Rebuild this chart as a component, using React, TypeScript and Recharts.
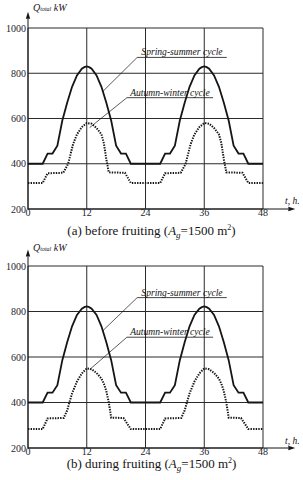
import { CartesianGrid, Line, LineChart, ReferenceLine, XAxis, YAxis } from "recharts";

// time axis (h) and heat load axis (kW)
const hourTicks = [0, 12, 24, 36, 48];
const loadTicks = [200, 400, 600, 800, 1000];

// (a) before fruiting
const springHoursA = [0, 3, 4, 5, 6, 7, 8, 9, 10, 11, 11.5, 12, 12.5, 13, 14, 15, 16, 17, 18, 19, 20, 21, 27, 28, 29, 30, 31, 32, 33, 34, 35, 35.5, 36, 36.5, 37, 38, 39, 40, 41, 42, 43, 44, 45, 48];
const springLoadA = [400, 400, 445, 445, 480, 590, 670, 740, 790, 820, 827, 830, 827, 820, 790, 740, 670, 590, 480, 445, 445, 400, 400, 445, 445, 480, 590, 670, 740, 790, 820, 827, 830, 827, 820, 790, 740, 670, 590, 480, 445, 445, 400, 400];
const autumnHoursA = [0, 3, 4, 7.2, 8.2, 9.2, 10, 11, 12, 13, 14, 15, 15.5, 16, 16.5, 19.8, 21, 27, 28, 31.2, 32.2, 33.2, 34, 35, 36, 37, 38, 39, 39.5, 40, 40.5, 43.8, 45, 48];
const autumnLoadA = [315, 315, 358, 360, 400, 486, 530, 562, 580, 577, 558, 530, 490, 420, 362, 360, 315, 315, 358, 360, 400, 486, 530, 562, 580, 577, 558, 530, 490, 420, 362, 360, 315, 315];

// (b) during fruiting
const springHoursB = springHoursA;
const springLoadB = [400, 400, 443, 443, 476, 585, 665, 735, 785, 812, 819, 822, 819, 812, 785, 735, 665, 585, 476, 443, 443, 400, 400, 443, 443, 476, 585, 665, 735, 785, 812, 819, 822, 819, 812, 785, 735, 665, 585, 476, 443, 443, 400, 400];
const autumnHoursB = [0, 3, 4, 7.3, 8, 8.5, 9, 10, 11, 12, 13, 14, 15, 15.5, 16, 16.5, 17, 19.5, 21, 27, 28, 31.3, 32, 32.5, 33, 34, 35, 36, 37, 38, 39, 39.5, 40, 40.5, 41, 43.5, 45, 48];
const autumnLoadB = [283, 283, 330, 332, 365, 404, 440, 492, 528, 550, 546, 530, 505, 482, 450, 400, 333, 332, 283, 283, 330, 332, 365, 404, 440, 492, 528, 550, 546, 530, 505, 482, 450, 400, 333, 332, 283, 283];

const toPoints = (hours: number[], load: number[]) => hours.map((t, i) => ({ t, q: load[i] }));

const serif = "Liberation Serif, Times New Roman, DejaVu Serif, serif";
const ink = "#151515";
const tickStyle = { fill: "#1c1c2c", fontSize: 10, fontFamily: serif };

function Arrow(props: any) {
  const { x1, y1, x2, y2 } = props;
  const a = Math.atan2(y2 - y1, x2 - x1);
  const len = 7;
  const half = 2.2;
  const bx = x2 - len * Math.cos(a);
  const by = y2 - len * Math.sin(a);
  const px = -Math.sin(a) * half;
  const py = Math.cos(a) * half;
  return (
    <g>
      <line x1={x1} y1={y1} x2={bx} y2={by} stroke={ink} strokeWidth={1} />
      <polygon points={`${x2},${y2} ${bx + px},${by + py} ${bx - px},${by - py}`} fill={ink} />
    </g>
  );
}

type Note = { spring: [number, number, number, number, number]; autumn: [number, number, number, number, number] };

function Panel({
  spring,
  autumn,
  top,
  bottom,
  note,
}: {
  spring: { t: number; q: number }[];
  autumn: { t: number; q: number }[];
  top: number;
  bottom: number;
  note: Note;
}) {
  // note: [underline x1, underline x2, underline y, leader end x, leader end y]
  const [sx1, sx2, sy, sex, sey] = note.spring;
  const [ax1, ax2, ay, aex, aey] = note.autumn;
  const labelStyle = { fill: ink, fontSize: 9.6, fontStyle: "italic", fontFamily: serif };
  return (
    <LineChart width={303} height={240} margin={{ top, right: 40, bottom, left: 0 }}>
      <CartesianGrid stroke="#2a2a2a" strokeWidth={1} />
      <XAxis
        type="number"
        dataKey="t"
        domain={[0, 48]}
        ticks={hourTicks}
        tickSize={0}
        tickMargin={0}
        height={13}
        axisLine={{ stroke: ink }}
        tick={tickStyle}
      />
      <YAxis
        type="number"
        dataKey="q"
        domain={[200, 1000]}
        ticks={loadTicks}
        width={28}
        tickSize={0}
        tickMargin={2}
        axisLine={{ stroke: ink }}
        tick={tickStyle}
      />
      <ReferenceLine segment={[{ x: 0, y: 1000 }, { x: 0, y: 1072 }]} ifOverflow="visible" shape={Arrow} />
      <ReferenceLine segment={[{ x: 48, y: 200 }, { x: 54.6, y: 200 }]} ifOverflow="visible" shape={Arrow} />
      <Line
        data={spring}
        dataKey="q"
        type="linear"
        stroke={ink}
        strokeWidth={1.8}
        dot={false}
        isAnimationActive={false}
      />
      <Line
        data={autumn}
        dataKey="q"
        type="linear"
        stroke={ink}
        strokeWidth={2}
        strokeDasharray="1.4 1.2"
        dot={false}
        isAnimationActive={false}
      />
      <ReferenceLine
        segment={[{ x: sx1, y: sy }, { x: sx2, y: sy }]}
        stroke={ink}
        strokeWidth={0.8}
        label={{ value: "Spring-summer cycle", position: "top", offset: 2, ...labelStyle }}
      />
      <ReferenceLine segment={[{ x: sx1, y: sy }, { x: sex, y: sey }]} stroke={ink} strokeWidth={0.7} />
      <ReferenceLine
        segment={[{ x: ax1, y: ay }, { x: ax2, y: ay }]}
        stroke={ink}
        strokeWidth={0.8}
        label={{ value: "Autumn-winter cycle", position: "top", offset: 2, ...labelStyle }}
      />
      <ReferenceLine segment={[{ x: ax1, y: ay }, { x: aex, y: aey }]} stroke={ink} strokeWidth={0.7} />
    </LineChart>
  );
}

const textBase: React.CSSProperties = { position: "absolute", fontFamily: serif, color: ink, whiteSpace: "nowrap" };

function AxisTitles({ top }: { top: number }) {
  return (
    <>
      <div style={{ ...textBase, left: 33, top: top, fontSize: 10, fontStyle: "italic", lineHeight: "10px" }}>
        Q<span style={{ fontSize: 6 }}>total</span> kW
      </div>
      <div style={{ ...textBase, left: 285, top: top + 193, fontSize: 9.5, fontStyle: "italic", lineHeight: "10px" }}>
        t, h.
      </div>
    </>
  );
}

function Caption({ top, tag, text }: { top: number; tag: string; text: string }) {
  const small: React.CSSProperties = { position: "relative", verticalAlign: "baseline" };
  return (
    <div style={{ ...textBase, left: 0, width: 303, textAlign: "center", top, fontSize: 13, lineHeight: "13px" }}>
      ({tag}) {text} (<i>A</i>
      <span style={{ ...small, top: 3, fontSize: 9, fontStyle: "italic" }}>g</span>=1500 m
      <span style={{ ...small, top: -5, fontSize: 8 }}>2</span>)
    </div>
  );
}

export default function App() {
  return (
    <div style={{ position: "absolute", left: 0, top: 0, width: 303, height: 480, background: "#fff" }}>
      <div style={{ position: "absolute", left: 0, top: 0 }}>
        <Panel
          spring={toPoints(springHoursA, springLoadA)}
          autumn={toPoints(autumnHoursA, autumnLoadA)}
          top={28}
          bottom={18}
          note={{ spring: [22.3, 40.6, 870, 15.3, 720], autumn: [20.2, 37.8, 692, 12.6, 560] }}
        />
      </div>
      <div style={{ position: "absolute", left: 0, top: 240 }}>
        <Panel
          spring={toPoints(springHoursB, springLoadB)}
          autumn={toPoints(autumnHoursB, autumnLoadB)}
          top={26}
          bottom={19}
          note={{ spring: [22.3, 40.6, 861, 15.3, 716], autumn: [20.2, 37.8, 687, 12.6, 545] }}
        />
      </div>
      <AxisTitles top={3} />
      <AxisTitles top={243} />
      <Caption top={224} tag="a" text="before fruiting" />
      <Caption top={457} tag="b" text="during fruiting" />
    </div>
  );
}
